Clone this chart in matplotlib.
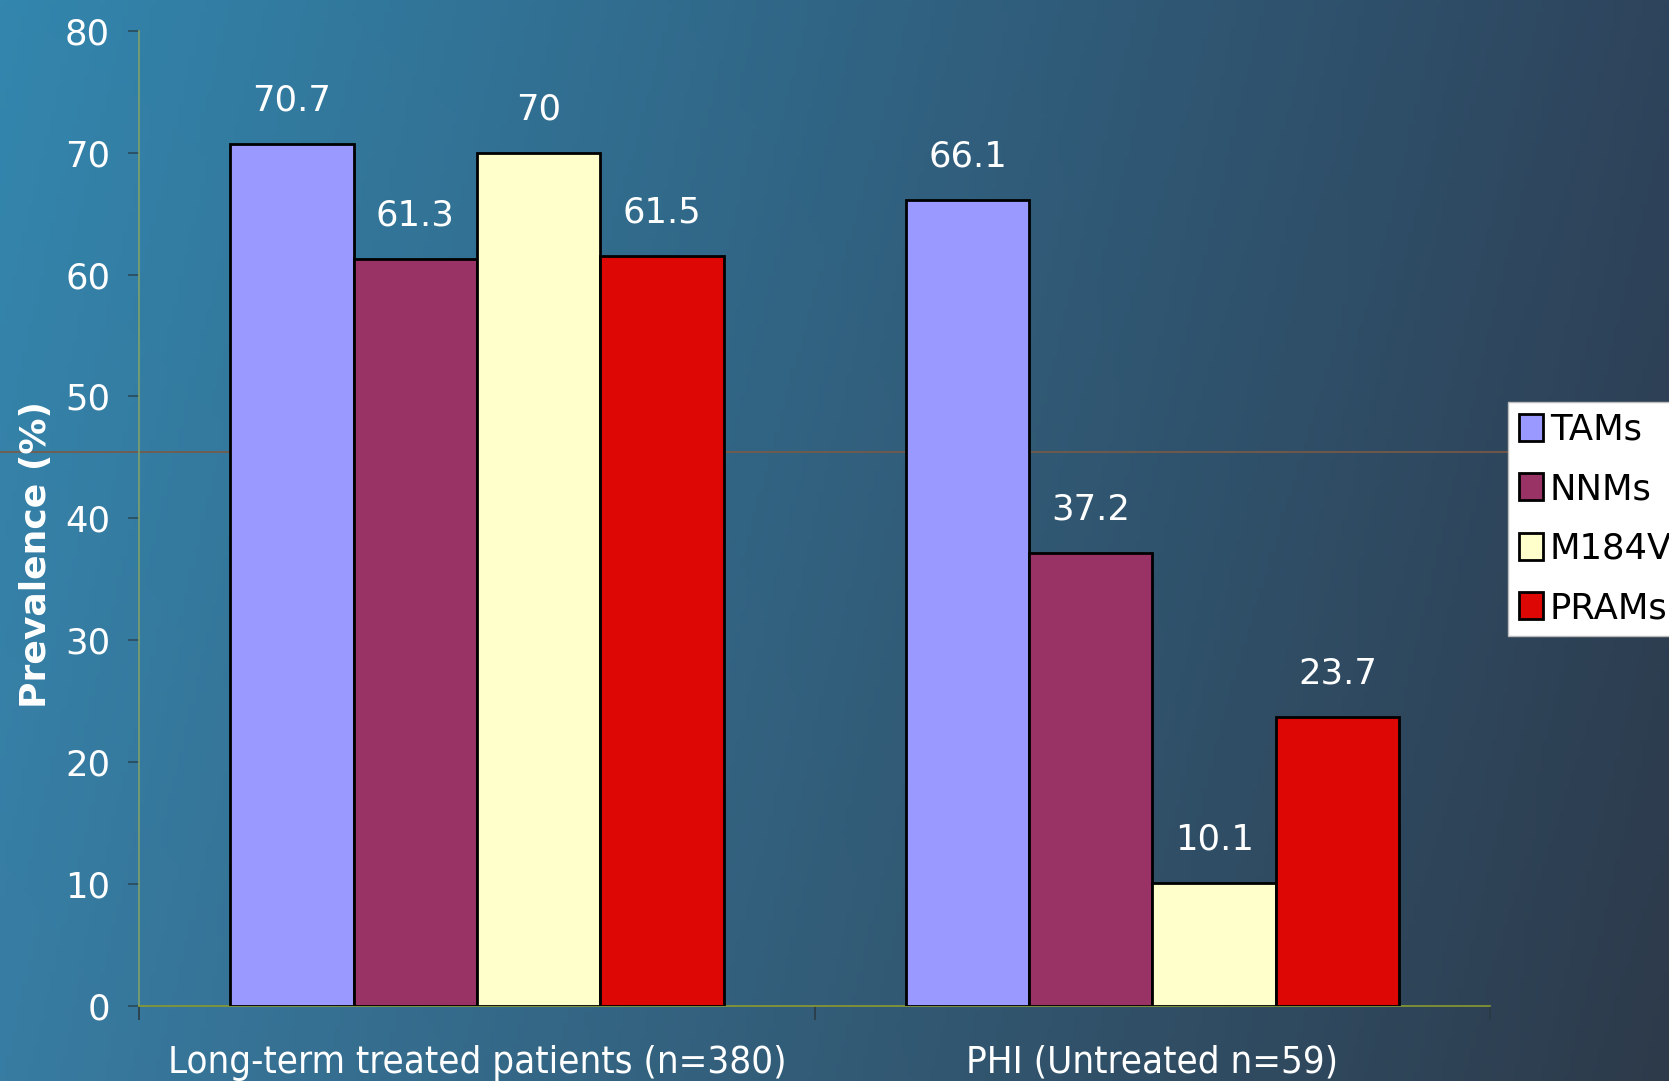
import numpy as np
import matplotlib.pyplot as plt
from matplotlib.lines import Line2D
from matplotlib.patches import Patch

groups = ["Long-term treated patients (n=380)", "PHI (Untreated n=59)"]
series = ["TAMs", "NNMs", "M184V", "PRAMs"]
values = {
    "TAMs": [70.7, 66.1],
    "NNMs": [61.3, 37.2],
    "M184V": [70, 10.1],
    "PRAMs": [61.5, 23.7],
}
colors = ["#9999FF", "#993366", "#FFFFCC", "#DD0806"]
yticks = [0, 10, 20, 30, 40, 50, 60, 70, 80]

plt.rcParams["font.family"] = "DejaVu Sans"

fig = plt.figure(figsize=(16.69, 10.81), dpi=100)

# diagonal blue-to-slate background
bg = fig.add_axes([0, 0, 1, 1], zorder=0)
tl = np.array([0x33, 0x86, 0xAE]) / 255
tr = np.array([0x2E, 0x44, 0x5C]) / 255
bl = np.array([0x38, 0x7C, 0xA2]) / 255
br = np.array([0x2D, 0x3A, 0x4A]) / 255
u = np.linspace(0, 1, 300)[None, :, None]
v = np.linspace(0, 1, 200)[:, None, None]
img = (1 - v) * ((1 - u) * tl + u * tr) + v * ((1 - u) * bl + u * br)
bg.imshow(img, aspect="auto", extent=[0, 1, 0, 1], origin="upper")
bg.axis("off")
bg.add_line(Line2D([0, 1], [0.5819, 0.5819], color="#7A5A45", lw=1.2))

ax = fig.add_axes([0.0835, 0.0694, 0.8093, 0.9021], zorder=1)
ax.set_facecolor("none")

x = np.arange(len(groups))
w = 0.1826
for i, (name, c) in enumerate(zip(series, colors)):
    pos = x + (i - 1.5) * w
    bars = ax.bar(pos, values[name], w, color=c, edgecolor="black", lw=2, label=name, zorder=3)
    for b, val in zip(bars, values[name]):
        ax.annotate(f"{val:g}", (b.get_x() + b.get_width() / 2, b.get_height()),
                    xytext=(0, 24), textcoords="offset points", ha="center", va="baseline",
                    color="white", fontsize=25.5)

ax.set_xlim(-0.5, 1.5)
ax.set_ylim(0, 80)
ax.set_yticks(yticks)
ax.tick_params(axis="y", colors="#2A4A5A", length=8, width=1.2, pad=13, labelsize=25.5, labelcolor="white")

ax.set_xticks([-0.5, 0.5, 1.5])
ax.set_xticklabels([])
ax.tick_params(axis="x", which="major", colors="#2A3A44", length=10, width=1.2)
ax.set_xticks(x, minor=True)
ax.set_xticklabels(groups, minor=True, fontstretch="condensed", fontsize=27.5, color="white")
ax.tick_params(axis="x", which="minor", length=0, pad=28)

for s in ["top", "right"]:
    ax.spines[s].set_visible(False)
ax.spines["left"].set_color("#7FA06A")
ax.spines["bottom"].set_color("#8A9A30")
ax.spines["left"].set_linewidth(1.2)
ax.spines["bottom"].set_linewidth(1.2)

fig.text(0.0215, 0.487, "Prevalence (%)", rotation=90, ha="center", va="center",
         color="white", fontsize=26, fontweight="bold")

handles = [Patch(facecolor=c, edgecolor="black", lw=2) for c in colors]
leg = fig.legend(handles, series, loc="upper left", bbox_to_anchor=(1508 / 1669, 1 - 402 / 1081),
                 frameon=True, fancybox=False, fontsize=25.5, handlelength=0.68, handleheight=0.79,
                 handletextpad=0.2, labelspacing=0.72, borderpad=0.3, borderaxespad=0)
leg.get_frame().set_facecolor("white")
leg.get_frame().set_edgecolor("#BBBBBB")
leg.get_frame().set_alpha(1)
leg.set_zorder(5)

fig.savefig("out.png", dpi=100)
